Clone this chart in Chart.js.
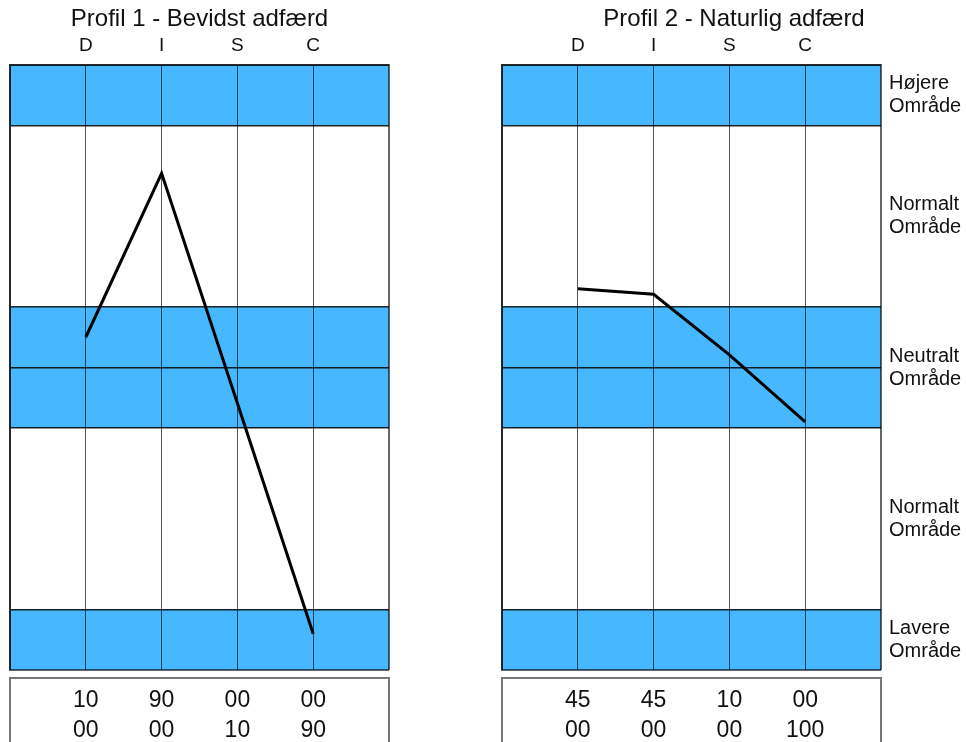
<!DOCTYPE html>
<html lang="da">
<head>
  <meta charset="UTF-8">
  <title>DISC profil</title>
  <script src="https://cdn.jsdelivr.net/npm/chart.js"></script>
  <style>
    body { margin: 0; background: white; }
    .panel { position: absolute; top: 0; }
    #p1 { left: 0; }
    #p2 { left: 490px; }
  </style>
</head>
<body>
  <div class="panel" id="p1"><canvas id="chart1" width="400" height="742"></canvas></div>
  <div class="panel" id="p2"><canvas id="chart2" width="476" height="742"></canvas></div>
  <script>
    // data
    const disc = ['D', 'I', 'S', 'C'];
    const profile1 = [5.5, 8.21, 4.41, 0.6];
    const profile2 = [6.3, 6.21, 5.21, 4.1];
    const profile1Top = ['10', '90', '00', '00'];
    const profile1Bottom = ['00', '00', '10', '90'];
    const profile2Top = ['45', '45', '10', '00'];
    const profile2Bottom = ['00', '00', '00', '100'];
    const bands = [[0, 1], [4, 6], [9, 10]];
    const bandLines = [0, 1, 4, 5, 6, 9, 10];
    const zoneTicks = [9.5, 7.5, 5, 2.5, 0.5];
    const zoneLabels = [['Højere', 'Område'], ['Normalt', 'Område'], ['Neutralt', 'Område'], ['Normalt', 'Område'], ['Lavere', 'Område']];

    const FONT = "'Liberation Sans', Arial, sans-serif";
    const BLUE = '#47b8ff';
    const EDGE = 'rgba(0,0,0,0.6)';
    const TOP_AREA = 65;
    const TITLE_BOTTOM = 34;

    const bandPlugin = {
      id: 'bands',
      beforeDraw(chart) {
        const { ctx, chartArea, scales } = chart;
        ctx.save();
        ctx.fillStyle = 'white';
        ctx.fillRect(0, 0, chart.width, chart.height);
        ctx.fillStyle = BLUE;
        bands.forEach(([a, b]) => {
          const y1 = scales.y.getPixelForValue(b);
          const y2 = scales.y.getPixelForValue(a);
          ctx.fillRect(chartArea.left, y1, chartArea.right - chartArea.left, y2 - y1);
        });
        ctx.restore();
      }
    };

    const tablePlugin = {
      id: 'table',
      afterDraw(chart, args, opts) {
        const { ctx, chartArea, scales } = chart;
        const top = chartArea.bottom + 8;
        ctx.save();
        ctx.strokeStyle = '#777';
        ctx.lineWidth = 2;
        ctx.strokeRect(chartArea.left, top, chartArea.right - chartArea.left, 100);
        ctx.fillStyle = '#111';
        ctx.font = '23px ' + FONT;
        ctx.textAlign = 'center';
        ctx.textBaseline = 'middle';
        opts.rows.forEach((row, r) => {
          row.forEach((txt, i) => {
            ctx.fillText(txt, scales.x.getPixelForValue(i + 1), top + 23 + r * 30);
          });
        });
        ctx.restore();
      }
    };

    function makeChart(id, title, values, rows, withZones) {
      const scales = {
        x: {
          type: 'linear',
          position: 'top',
          min: 0,
          max: 5,
          afterBuildTicks: s => { s.ticks = [0, 1, 2, 3, 4, 5].map(v => ({ value: v })); },
          afterFit: s => { s.height = TOP_AREA - TITLE_BOTTOM; },
          ticks: {
            padding: 8,
            color: '#111',
            font: { family: FONT, size: 19 },
            callback: v => disc[v - 1] || ''
          },
          grid: {
            drawTicks: false,
            color: c => (c.tick.value === 0 || c.tick.value === 5) ? EDGE : 'rgba(0,0,0,0.65)',
            lineWidth: c => (c.tick.value === 0 || c.tick.value === 5) ? 2 : 1
          },
          border: { color: EDGE, width: 2 }
        },
        y: {
          min: 0,
          max: 10,
          afterBuildTicks: s => { s.ticks = bandLines.map(v => ({ value: v })); },
          afterFit: s => { s.width = 0; },
          ticks: { display: false },
          grid: {
            drawTicks: false,
            color: c => (c.tick.value === 0 || c.tick.value === 10) ? EDGE : 'rgba(0,0,0,0.85)',
            lineWidth: c => (c.tick.value === 0 || c.tick.value === 10) ? 2 : 1.5
          },
          border: { color: EDGE, width: 2 }
        }
      };
      if (withZones) {
        scales.zones = {
          position: 'right',
          min: 0,
          max: 10,
          afterBuildTicks: s => { s.ticks = zoneTicks.map(v => ({ value: v })); },
          afterFit: s => { s.width = 85; },
          ticks: {
            padding: 0,
            color: '#111',
            font: { family: FONT, size: 20, lineHeight: 1.15 },
            callback: (v, i) => zoneLabels[i]
          },
          grid: { display: false },
          border: { display: false }
        };
      }
      return new Chart(document.getElementById(id), {
        type: 'line',
        data: {
          datasets: [{
            data: values.map((v, i) => ({ x: i + 1, y: v })),
            borderColor: '#000',
            borderWidth: 3,
            pointRadius: 0,
            tension: 0,
            fill: false
          }]
        },
        options: {
          responsive: false,
          animation: false,
          layout: { padding: { left: withZones ? 12 : 10, right: withZones ? 0 : 11, top: 0, bottom: 742 - 670 } },
          scales: scales,
          plugins: {
            legend: { display: false },
            tooltip: { enabled: false },
            title: {
              display: true,
              text: title,
              color: '#111',
              font: { family: FONT, size: 24, weight: 'normal' },
              padding: { top: 5.2, bottom: 0 }
            },
            table: { rows: rows }
          }
        },
        plugins: [bandPlugin, tablePlugin]
      });
    }

    makeChart('chart1', 'Profil 1 - Bevidst adfærd', profile1, [profile1Top, profile1Bottom], false);
    makeChart('chart2', 'Profil 2 - Naturlig adfærd', profile2, [profile2Top, profile2Bottom], true);
  </script>
</body>
</html>
